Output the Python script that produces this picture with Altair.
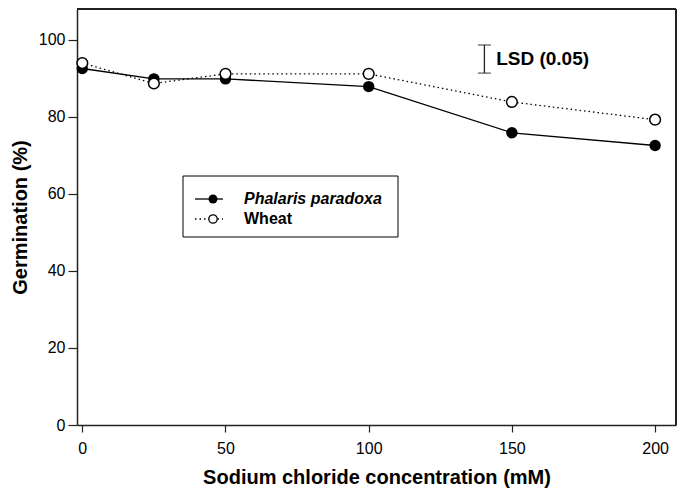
import altair as alt
import pandas as pd

# Data
nacl = [0, 25, 50, 100, 150, 200]
phalaris = [92.6, 89.9, 89.9, 87.9, 75.9, 72.6]
wheat = [94.0, 88.7, 91.2, 91.2, 83.9, 79.3]

lsd_x = 140.4
lsd_low = 91.4
lsd_high = 98.7
lsd_label = "LSD (0.05)"

x_ticks = [0, 50, 100, 150, 200]
y_ticks = [0, 20, 40, 60, 80, 100]

FONT = "Liberation Sans"

df = pd.DataFrame({
    "nacl": nacl * 2,
    "germ": phalaris + wheat,
    "series": ["Phalaris paradoxa"] * len(nacl) + ["Wheat"] * len(nacl),
})
lsd_df = pd.DataFrame({"x": [lsd_x], "lo": [lsd_low], "hi": [lsd_high],
                       "tx": [lsd_x + 4.1], "ty": [(lsd_low + lsd_high) / 2],
                       "label": [lsd_label]})
one = pd.DataFrame({"k": [0]})

xs = alt.Scale(domain=[-1.85, 207.3], nice=False, zero=False)
ys = alt.Scale(domain=[0, 108.05], nice=False)

xenc = alt.X("nacl:Q", scale=xs, axis=alt.Axis(
    values=x_ticks, title="Sodium chloride concentration (mM)", grid=False,
    tickSize=7, labelPadding=8, labelFont=FONT, labelFontSize=16, labelColor="black",
    titleFont=FONT, titleFontSize=20, titleFontWeight="bold", titleColor="black",
    titleY=52, titleBaseline="middle",
    domainColor="#222222", domainWidth=1.5, tickColor="#222222", tickWidth=1.2))
yenc = alt.Y("germ:Q", scale=ys, axis=alt.Axis(
    values=y_ticks, title="Germination (%)", grid=False,
    tickSize=9, labelPadding=3, labelFont=FONT, labelFontSize=16, labelColor="black",
    titleFont=FONT, titleFontSize=20, titleFontWeight="bold", titleColor="black",
    titleX=-57, titleBaseline="middle", titleAngle=-90,
    domainColor="#222222", domainWidth=1.5, tickColor="#222222", tickWidth=1.2))

base = alt.Chart(df)
p_line = base.transform_filter(alt.datum.series == "Phalaris paradoxa").mark_line(
    color="black", strokeWidth=1.3).encode(x=xenc, y=yenc)
p_pts = base.transform_filter(alt.datum.series == "Phalaris paradoxa").mark_point(
    filled=True, fill="black", color="black", size=130, opacity=1).encode(x=xenc, y=yenc)
w_line = base.transform_filter(alt.datum.series == "Wheat").mark_line(
    color="black", strokeWidth=1.3, strokeDash=[1.5, 3]).encode(x=xenc, y=yenc)
w_pts = base.transform_filter(alt.datum.series == "Wheat").mark_point(
    filled=False, fill="white", fillOpacity=1, stroke="black", strokeWidth=1.5,
    size=115, opacity=1).encode(x=xenc, y=yenc)

lsd_rule = alt.Chart(lsd_df).mark_rule(color="#222222", strokeWidth=1.3).encode(
    x="x:Q", y="lo:Q", y2="hi:Q")
lsd_cap_lo = alt.Chart(lsd_df).mark_tick(orient="horizontal", size=13, thickness=1.3,
                                         color="#222222").encode(x="x:Q", y="lo:Q")
lsd_cap_hi = alt.Chart(lsd_df).mark_tick(orient="horizontal", size=13, thickness=1.3,
                                         color="#222222").encode(x="x:Q", y="hi:Q")
lsd_text = alt.Chart(lsd_df).mark_text(align="left", baseline="middle", font=FONT,
                                       fontSize=19, fontWeight="bold", color="black").encode(
    x="tx:Q", y="ty:Q", text="label:N")

# Manual legend (pixel positions within the plot area)
leg_box = alt.Chart(one).mark_rect(fill="white", stroke="black", strokeWidth=1).encode(
    x=alt.value(106), x2=alt.value(321), y=alt.value(167), y2=alt.value(228))
leg_l1 = alt.Chart(one).mark_rule(color="black", strokeWidth=1.3).encode(
    x=alt.value(118), x2=alt.value(146), y=alt.value(190))
leg_p1 = alt.Chart(one).mark_point(filled=True, fill="black", color="black", size=80,
                                   opacity=1).encode(x=alt.value(136), y=alt.value(190))
leg_l2 = alt.Chart(one).mark_rule(color="black", strokeWidth=1.3, strokeDash=[1.5, 3]).encode(
    x=alt.value(118), x2=alt.value(146), y=alt.value(210))
leg_p2 = alt.Chart(one).mark_point(filled=False, fill="white", fillOpacity=1, stroke="black",
                                   strokeWidth=1.3, size=70, opacity=1).encode(
    x=alt.value(136), y=alt.value(210))
leg_t1 = alt.Chart(one).mark_text(align="left", baseline="middle", font=FONT, fontSize=16,
                                  fontWeight="bold", fontStyle="italic", color="black").encode(
    x=alt.value(167), y=alt.value(190), text=alt.value("Phalaris paradoxa"))
leg_t2 = alt.Chart(one).mark_text(align="left", baseline="middle", font=FONT, fontSize=16,
                                  fontWeight="bold", color="black").encode(
    x=alt.value(167), y=alt.value(210), text=alt.value("Wheat"))

# Frame (top and right edges) drawn explicitly for a crisp dark border
frame_top = alt.Chart(one).mark_rule(color="#222222", strokeWidth=2).encode(
    x=alt.value(0), x2=alt.value(599), y=alt.value(0))
frame_right = alt.Chart(one).mark_rule(color="#222222", strokeWidth=2).encode(
    x=alt.value(599), y=alt.value(0), y2=alt.value(416))

chart = alt.layer(
    p_line, p_pts, w_line, w_pts, lsd_rule, lsd_cap_lo, lsd_cap_hi, lsd_text,
    leg_box, leg_l1, leg_p1, leg_l2, leg_p2, leg_t1, leg_t2, frame_top, frame_right,
).properties(
    width=599, height=416,
    autosize=alt.AutoSizeParams(type="none"),
    padding={"left": 69, "top": 1, "right": 1, "bottom": 63},
).configure_view(stroke=None).configure(background="white")

chart.save("out.html", embed_options={"renderer": "svg", "actions": False})
